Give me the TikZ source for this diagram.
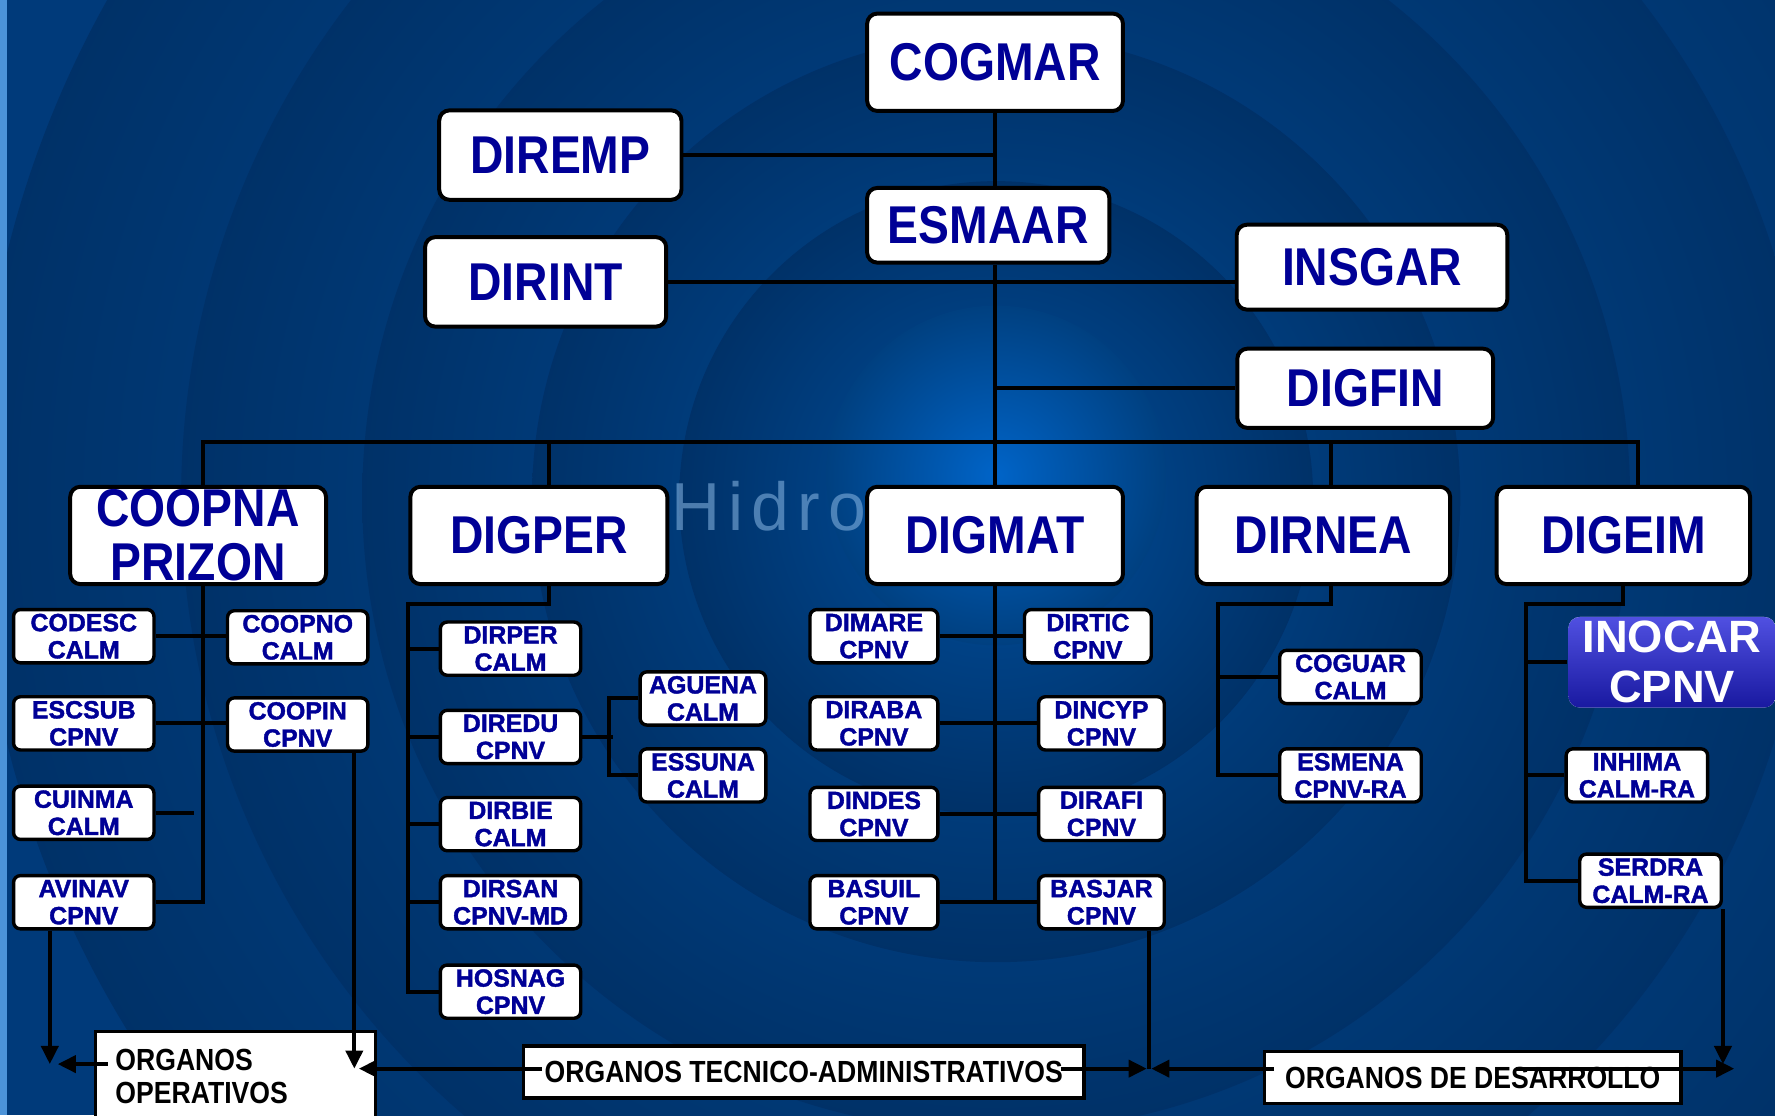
\documentclass[tikz,border=0pt]{standalone}
\usepackage{fontspec}
\setmainfont{Liberation Sans}
\newfontfamily\narrowfont{Liberation Sans}[FakeStretch=0.87]
\newfontfamily\heavyfont{Liberation Sans Bold}[FakeBold=1.6]
\newfontfamily\markfont{Liberation Sans}[LetterSpace=12]
\usetikzlibrary{arrows.meta}
\definecolor{bgblue}{RGB}{0,58,122}
\definecolor{midblue}{RGB}{0,80,160}
\definecolor{glowblue}{RGB}{0,100,200}
\definecolor{navy}{RGB}{0,0,150}
\definecolor{inotop}{RGB}{80,80,225}
\definecolor{inobot}{RGB}{25,25,160}

\begin{document}
\begin{tikzpicture}[x=1pt,y=-1pt,>={Triangle[length=16pt,width=15pt]},
  link/.style={line width=3.5pt},
  bigbox/.style={draw,line width=3.5pt,fill=white,rounded corners=9pt,inner sep=0pt,
    text=navy,align=center,font=\narrowfont\bfseries\fontsize{47}{48}\selectfont},
  smallbox/.style={draw,line width=3pt,fill=white,rounded corners=6pt,inner sep=0pt,
    minimum width=124pt,minimum height=47pt,text=navy,align=center,
    font=\heavyfont\fontsize{22}{24}\selectfont},
  orgbox/.style={draw,line width=3pt,fill=white,inner sep=0pt,
    font=\narrowfont\bfseries\fontsize{27}{29}\selectfont}]
  \useasboundingbox (0,0) rectangle (1568,985);
  % fondo
  \begin{scope}
    \clip (0,0) rectangle (1568,985);
    \fill[bgblue] (0,0) rectangle (1568,985);
    \foreach \r in {900,720,560,410,280} {
      \shade[inner color=midblue,outer color=bgblue!85!black] (880,440) circle (\r pt);
    }
    \shade[inner color=glowblue,outer color=midblue!80!black] (880,420) circle (150pt);
    \fill[glowblue!70!white] (0,0) rectangle (6,985);
  \end{scope}
  \node[anchor=west,inner sep=0pt,text=glowblue!45!white,opacity=0.55,
    font=\markfont\fontsize{60}{60}\selectfont] (hidro) at (593,447) {Hidro};

  % nivel superior
  \node[bigbox,minimum width=226pt,minimum height=86pt] (cogmar) at (879,55) {COGMAR};
  \node[bigbox,minimum width=214pt,minimum height=79pt] (diremp) at (495,137) {DIREMP};
  \node[bigbox,minimum width=214pt,minimum height=66pt] (esmaar) at (873,199) {ESMAAR};
  \node[bigbox,minimum width=213pt,minimum height=79pt] (dirint) at (482,249) {DIRINT};
  \node[bigbox,minimum width=239pt,minimum height=75pt] (insgar) at (1212,236) {INSGAR};
  \node[bigbox,minimum width=226pt,minimum height=70pt] (digfin) at (1206,343) {DIGFIN};

  % direcciones generales
  \node[bigbox,minimum width=226pt,minimum height=86pt] (coopna) at (175,473) {COOPNA\\PRIZON};
  \node[bigbox,minimum width=227pt,minimum height=86pt] (digper) at (476,473) {DIGPER};
  \node[bigbox,minimum width=226pt,minimum height=86pt] (digmat) at (879,473) {DIGMAT};
  \node[bigbox,minimum width=224pt,minimum height=86pt] (dirnea) at (1169,473) {DIRNEA};
  \node[bigbox,minimum width=224pt,minimum height=86pt] (digeim) at (1434,473) {DIGEIM};

  % repartos
  \node[smallbox] (codesc) at (74,562) {CODESC\\CALM};
  \node[smallbox] (escsub) at (74,639) {ESCSUB\\CPNV};
  \node[smallbox] (cuinma) at (74,718) {CUINMA\\CALM};
  \node[smallbox] (avinav) at (74,797) {AVINAV\\CPNV};
  \node[smallbox] (coopno) at (263,563) {COOPNO\\CALM};
  \node[smallbox] (coopin) at (263,640) {COOPIN\\CPNV};

  \node[smallbox] (dirper) at (451,573) {DIRPER\\CALM};
  \node[smallbox] (diredu) at (451,651) {DIREDU\\CPNV};
  \node[smallbox] (dirbie) at (451,728) {DIRBIE\\CALM};
  \node[smallbox] (dirsan) at (451,797) {DIRSAN\\CPNV-MD};
  \node[smallbox] (hosnag) at (451,876) {HOSNAG\\CPNV};
  \node[smallbox,minimum width=111pt] (aguena) at (621,617) {AGUENA\\CALM};
  \node[smallbox,minimum width=111pt] (essuna) at (621,685) {ESSUNA\\CALM};

  \node[smallbox,minimum width=113pt] (dimare) at (772,562) {DIMARE\\CPNV};
  \node[smallbox,minimum width=113pt] (diraba) at (772,639) {DIRABA\\CPNV};
  \node[smallbox,minimum width=113pt] (dindes) at (772,719) {DINDES\\CPNV};
  \node[smallbox,minimum width=113pt] (basuil) at (772,797) {BASUIL\\CPNV};
  \node[smallbox,minimum width=112pt] (dirtic) at (961,562) {DIRTIC\\CPNV};
  \node[smallbox,minimum width=111pt] (dincyp) at (973,639) {DINCYP\\CPNV};
  \node[smallbox,minimum width=111pt] (dirafi) at (973,719) {DIRAFI\\CPNV};
  \node[smallbox,minimum width=111pt] (basjar) at (973,797) {BASJAR\\CPNV};

  \node[smallbox,minimum width=125pt] (coguar) at (1193,598) {COGUAR\\CALM};
  \node[smallbox,minimum width=125pt] (esmena) at (1193,685) {ESMENA\\CPNV-RA};

  \node[smallbox,draw=none,top color=inotop,bottom color=inobot,text=white,
    minimum width=183pt,minimum height=80pt,rounded corners=10pt,
    font=\bfseries\fontsize{40}{44}\selectfont] (inocar) at (1477,585) {INOCAR\\CPNV};
  \node[smallbox,minimum width=125pt] (inhima) at (1446,685) {INHIMA\\CALM-RA};
  \node[smallbox,minimum width=125pt] (serdra) at (1458,778) {SERDRA\\CALM-RA};

  % organos
  \node[orgbox,minimum width=247pt,minimum height=80pt,text width=212pt,align=left] %
  (orgop) at (208,951) {ORGANOS\\OPERATIVOS};
  \node[orgbox,minimum width=495pt,minimum height=46pt] (orgtec) at (710,947) {ORGANOS TECNICO-ADMINISTRATIVOS};
  \node[orgbox,minimum width=368pt,minimum height=46pt] (orgdes) at (1301,952) {ORGANOS DE DESARROLLO};

  % lineas de mando
  \draw[link] (cogmar.south) -- (cogmar.south |- esmaar.north);
  \draw[link] (esmaar.south -| cogmar.south) -- (digmat.north);
  \draw[link] (diremp.east) -- (diremp.east -| cogmar.south);
  \draw[link] (dirint.east) -- (dirint.east -| insgar.west);
  \draw[link] (digfin.west) -- (digfin.west -| digmat.north);
  \draw[link] ([xshift=4pt]coopna.north) -- ++(0,-38) -| ([xshift=13pt]digeim.north);
  \draw[link] ([xshift=9pt]digper.north) -- ++(0,-38);
  \draw[link] ([xshift=7pt]dirnea.north) -- ++(0,-38);

  \draw[link] ([xshift=4pt]coopna.south) -- ([xshift=4pt]coopna.south |- avinav.east) -- (avinav.east);
  \draw[link] (cuinma.east) -- (cuinma.east -| avinav.east) -- ++(34,0);
  \draw[link] (codesc.east) -- (codesc.east -| coopno.west);
  \draw[link] (escsub.east) -- (escsub.east -| coopin.west);

  \draw[link] ([xshift=9pt]digper.south) -- ++(0,16) -| ([xshift=-27pt]hosnag.west) -- (hosnag.west);
  \foreach \n in {dirper,diredu,dirbie,dirsan}
    \draw[link] (\n.west) -- ++(-27,0);
  \draw[link] (diredu.east) -- ++(27,0);
  \draw[link] (aguena.west) -- ++(-26,0) |- (essuna.west);

  \draw[link] (digmat.south) -- (digmat.south |- basuil.east);
  \draw[link] (dimare.east) -- (dirtic.west);
  \draw[link] (diraba.east) -- (dincyp.west);
  \draw[link] (dindes.east) -- (dirafi.west);
  \draw[link] (basuil.east) -- (basjar.west);

  \draw[link] ([xshift=7pt]dirnea.south) -- ++(0,16) -| ([xshift=-53pt]esmena.west) -- (esmena.west);
  \draw[link] (coguar.west) -- ++(-53,0);

  \draw[link] (digeim.south) -- ++(0,16) -| ([xshift=-46pt]serdra.west) -- (serdra.west);
  \draw[link] (inocar.west) -- ++(-35,0);
  \draw[link] (inhima.west) -- ++(-33,0);

  % flechas hacia los organos
  \coordinate (opl) at (44,940);
  \coordinate (tecl) at (313,944);
  \coordinate (mid) at (1015,944);
  \coordinate (desr) at (1532,944);
  \draw[link,->] ([xshift=-30pt]avinav.south) -- (opl);
  \draw[link,->] ([xshift=12pt]orgop.west |- opl) -- ([xshift=7pt]opl);
  \draw[link,->] ([xshift=50pt]coopin.south) -- (tecl);
  \draw[link,->] ([xshift=18pt]orgtec.west |- tecl) -- ([xshift=4pt]tecl);
  \draw[link] ([xshift=42pt]basjar.south) -- (mid);
  \draw[link,->] ([xshift=-22pt]orgtec.east |- mid) -- ([xshift=-2pt]mid);
  \draw[link,->] ([xshift=10pt]orgdes.west |- mid) -- ([xshift=2pt]mid);
  \draw[link,->] ([xshift=-147pt]orgdes.east |- desr) -- (desr);
  \draw[link,->] (serdra.south -| serdra.east) -- (serdra.east |- opl);
\end{tikzpicture}
\end{document}
